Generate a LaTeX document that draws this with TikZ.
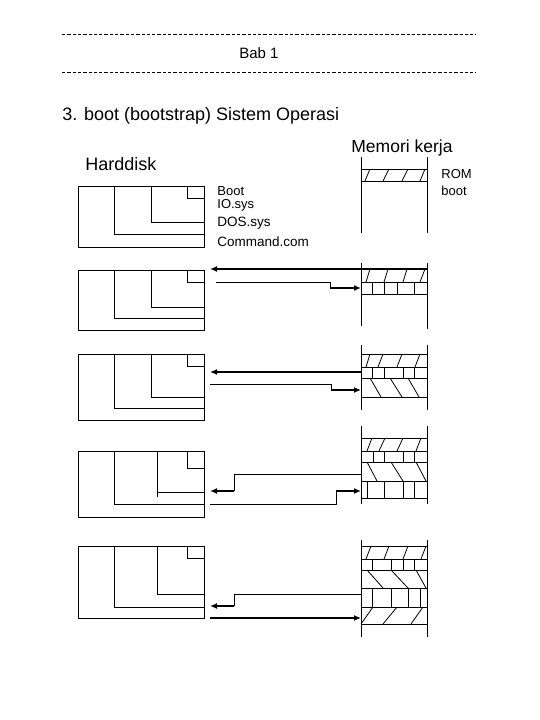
\documentclass[tikz,border=0pt]{standalone}
\usepackage{fontspec}
\setmainfont{Liberation Sans}
\usetikzlibrary{arrows.meta}

\begin{document}
\begin{tikzpicture}[x=1pt,y=-1pt,line width=0.8pt,
  every node/.style={inner sep=0pt,anchor=base west},
  flow/.style={line width=2.2pt,-{Latex[length=7pt,width=6pt]}},
  rule/.style={line width=1pt,dash pattern=on 3.3pt off 2pt}]

\useasboundingbox (0,0) rectangle (540,720);

% header
\draw[rule] (62,34) -- (476,34);
\draw[rule] (62,72) -- (476,72);
\node[anchor=base] (bab) at (259,58) {\fontsize{15}{15}\selectfont Bab 1};
\node (title) at (62,120) {\fontsize{18}{18}\selectfont 3. boot (bootstrap) Sistem Operasi};
\node (hd) at (85,170) {\fontsize{18}{18}\selectfont Harddisk};
\node (mem) at (351,152) {\fontsize{17.5}{17.5}\selectfont Memori kerja};

% labels
\node (boot) at (217,195.2) {\fontsize{13}{13}\selectfont Boot};
\node (io) at (217,208.5) {\fontsize{13}{13}\selectfont IO.sys};
\node (dos) at (217,226) {\fontsize{13.5}{13.5}\selectfont DOS.sys};
\node (cmd) at (217,246) {\fontsize{13.5}{13.5}\selectfont Command.com};
\node (rom) at (441,178) {\fontsize{13}{13}\selectfont ROM};
\node (romb) at (441,195) {\fontsize{13}{13}\selectfont boot};

% harddisk 1..5
\draw (78,186) rectangle (204,247);
\draw (114,186) |- (204,234) (151,186) |- (204,222) (187,186) |- (204,198);
\draw (78,270) rectangle (204,330);
\draw (114,270) |- (204,318) (151,270) |- (204,307) (187,270) |- (204,282);
\draw (78,354) rectangle (204,420);
\draw (114,354) |- (204,408) (151,354) |- (204,397) (187,354) |- (204,366);
\draw (78,451) rectangle (204,517);
\draw (114,451) |- (204,504) (157,451) -- (157,497) (157,492) -- (204,492) (187,451) |- (204,468);
\draw (78,546) rectangle (204,618);
\draw (114,546) |- (204,607) (157,546) |- (204,594) (187,546) |- (204,558);

% memori 1
\draw (361,157) -- (361,233) (427,157) -- (427,233);
\draw (361,169) -- (427,169) (361,181) -- (427,181);
\draw (365,181) -- (370,169) (383,181) -- (389,169) (402,181) -- (408,169) (420,181) -- (425,169);

% memori 2
\draw (361,263) -- (361,326) (427,263) -- (427,329);
\draw (361,282) -- (427,282) (361,294) -- (427,294);
\draw (366,282) -- (370,269) (384,282) -- (388,269) (403,282) -- (407,269) (420,282) -- (425,269);
\draw (372,282) -- (372,294) (384,282) -- (384,294) (397,282) -- (397,294) (414,282) -- (414,294);

% memori 3
\draw (361,345) -- (361,410) (427,345) -- (427,410);
\draw (361,354) -- (427,354) (361,367) -- (427,367) (361,378) -- (427,378) (361,397) -- (427,397);
\draw (366,367) -- (370,354) (378,367) -- (383,354) (397,367) -- (402,354) (415,367) -- (420,354);
\draw (372,367) -- (372,378) (384,367) -- (384,378) (403,367) -- (403,378) (414,367) -- (414,378);
\draw (370,378) -- (381,397) (390,378) -- (402,397) (408,378) -- (419,397);

% memori 4
\draw (361,426) -- (361,504) (427,426) -- (427,504);
\draw (361,438) -- (427,438) (361,451) -- (427,451) (361,462) -- (427,462) (361,481) -- (427,481) (361,498) -- (427,498);
\draw (367,451) -- (372,438) (379,451) -- (385,438) (397,451) -- (403,438) (416,451) -- (421,438);
\draw (373,451) -- (373,462) (384,451) -- (384,462) (403,451) -- (403,462) (414,451) -- (414,462);
\draw (367,462) -- (377,481) (391,462) -- (403,481) (416,462) -- (426,481);
\draw (367,481) -- (367,498) (384,481) -- (384,498) (403,481) -- (403,498) (414,481) -- (414,498);

% memori 5
\draw (361,540) -- (361,637) (427,540) -- (427,637);
\draw (361,546) -- (427,546) (361,559) -- (427,559) (361,570) -- (427,570) (361,588) -- (427,588) (361,607) -- (427,607) (361,624) -- (427,624);
\draw (366,559) -- (371,546) (384,559) -- (389,546) (403,559) -- (408,546) (421,559) -- (426,546);
\draw (372,559) -- (372,570) (391,559) -- (391,570) (403,559) -- (403,570) (414,559) -- (414,570);
\draw (367,570) -- (383,588) (391,570) -- (408,588) (416,570) -- (426,588);
\draw (372,588) -- (372,607) (391,588) -- (391,607) (408,588) -- (408,607) (420,588) -- (420,607);
\draw (361,624) -- (373,607) (383,624) -- (397,607) (411,624) -- (423,607);

% connectors
\coordinate (m2out) at (427,269);
\coordinate (d2a) at (210,269);
\coordinate (d2b) at (216,282);
\coordinate (k2) at (330,288);
\coordinate (m2in) at (361,288);
\coordinate (m3out) at (361,372);
\coordinate (d3a) at (210,372);
\coordinate (d3b) at (210,384);
\coordinate (k3) at (331,390);
\coordinate (m3in) at (361,390);
\coordinate (m4out) at (361,474);
\coordinate (k4a) at (234,491);
\coordinate (d4a) at (210,491);
\coordinate (d4b) at (210,504);
\coordinate (k4b) at (336,491);
\coordinate (m4in) at (361,491);
\coordinate (m5out) at (361,594);
\coordinate (k5) at (234,606);
\coordinate (d5a) at (210,606);
\coordinate (d5b) at (210,618);
\coordinate (m5in) at (361,618);

\draw[flow] (m2out) -- (d2a);
\draw (d2b) -| (k2);
\draw[flow] (k2) -- (m2in);
\draw[flow] (m3out) -- (d3a);
\draw (d3b) -| (k3);
\draw[flow] (k3) -- (m3in);
\draw (m4out) -| (k4a);
\draw[flow] (k4a) -- (d4a);
\draw (d4b) -| (k4b);
\draw[flow] (k4b) -- (m4in);
\draw (m5out) -| (k5);
\draw[flow] (k5) -- (d5a);
\draw[flow] (d5b) -- (m5in);
\end{tikzpicture}
\end{document}
